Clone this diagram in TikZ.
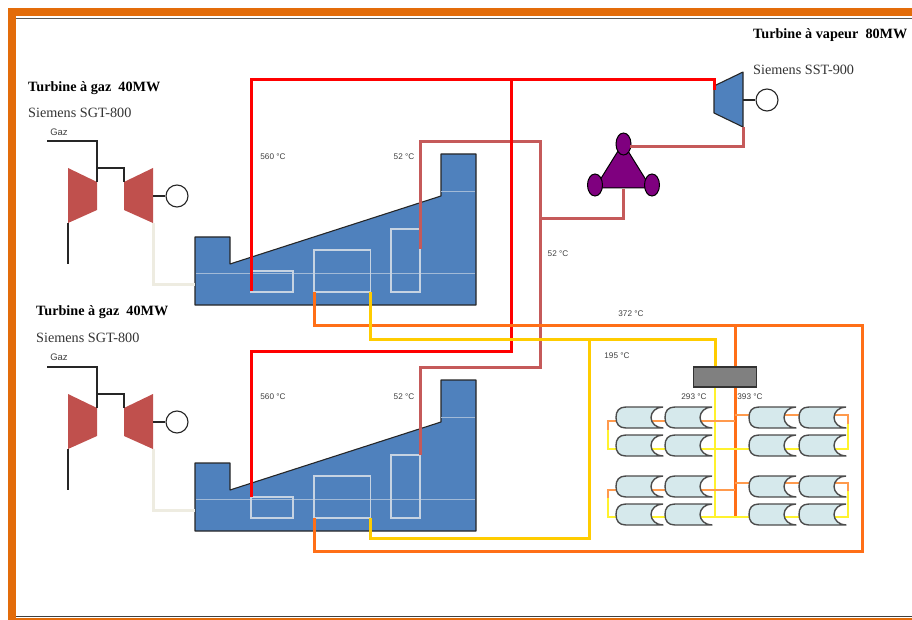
\documentclass[tikz,border=0pt]{standalone}
\usepackage{fontspec}
\setmainfont{Liberation Serif}
\setsansfont{Liberation Sans}
\usepackage{xcolor}
\usetikzlibrary{positioning,shapes.geometric}
\definecolor{framecol}{HTML}{E36C0A}
\definecolor{gtcol}{HTML}{C0504D}
\definecolor{hrsgcol}{HTML}{4F81BD}
\definecolor{innercol}{HTML}{C6D3E2}
\definecolor{hotcol}{HTML}{FF0000}
\definecolor{condcol}{HTML}{C55A5A}
\definecolor{oilcol}{HTML}{FF6F17}
\definecolor{oilthin}{HTML}{FF9A4D}
\definecolor{feedcol}{HTML}{FFCC00}
\definecolor{coldcol}{HTML}{FFF22E}
\definecolor{tubecol}{HTML}{D6E9EC}
\definecolor{pumpcol}{HTML}{7F007F}
\definecolor{exhaustcol}{HTML}{EEECE1}
\tikzset{
  shell/.style={draw=black!85, line width=1.1pt, line join=round},
  wire/.style={draw=black!85, line width=1.1pt},
  gen/.style={draw=black!85, line width=1.1pt, circle, fill=white, minimum size=22pt, inner sep=0pt},
  title/.style={font=\bfseries\fontsize{14.2}{16}\selectfont, anchor=west, inner sep=0pt},
  model/.style={font=\fontsize{14.2}{16}\selectfont, anchor=west, inner sep=0pt, text=black!80},
  temp/.style={font=\sffamily\fontsize{8.2}{10}\selectfont, inner sep=0pt, text=black!75},
  gazlabel/.style={font=\sffamily\fontsize{9.5}{11}\selectfont, inner sep=0pt, text=black!75},
  pumpend/.style={draw=black, line width=1pt, ellipse, fill=pumpcol, minimum width=15pt, minimum height=22pt, inner sep=0pt},
  exhaust/.style={draw=exhaustcol, line width=3pt},
  hot/.style={draw=hotcol, line width=3pt, line join=miter},
  cond/.style={draw=condcol, line width=3pt, line join=miter},
  oil/.style={draw=oilcol, line width=3pt, line join=miter},
  feed/.style={draw=feedcol, line width=3pt, line join=miter},
  oilbranch/.style={draw=oilthin, line width=2.4pt},
  coldbranch/.style={draw=coldcol, line width=2.4pt},
  inner/.style={draw=innercol, line width=1.3pt},
  gasset/.pic={
    \fill[gtcol] (68,168) -- (97,182) -- (97,210) -- (68,223) -- cycle;
    \fill[gtcol] (124,182) -- (153,168) -- (153,223) -- (124,210) -- cycle;
    \coordinate (-gaz) at (47,141);
    \coordinate (-burn) at (97,182);
    \coordinate (-shaft) at (97,168);
    \coordinate (-turb) at (124,182);
    \coordinate (-air) at (68,223);
    \coordinate (-airend) at (68,264);
    \coordinate (-out) at (153,223);
    \coordinate (-drive) at (153,196);
    \node[gen] (-gen) at (177,196) {};
    \draw[wire] (-gaz) -| (-burn);
    \draw[wire] (-shaft) -| (-turb);
    \draw[wire] (-air) -- (-airend);
    \draw[wire] (-drive) -- (-gen);
  },
  hrsg/.pic={
    \filldraw[shell, fill=hrsgcol] (195,237) -- (230,237) -- (230,264) -- (441,196) -- (441,154) -- (476,154) -- (476,305) -- (195,305) -- cycle;
    \draw[draw=innercol!70!hrsgcol, line width=0.6pt] (196,273) -- (475,273);
    \draw[draw=innercol!70!hrsgcol, line width=0.6pt] (441,191) -- (475,191);
    \draw[inner] (251,271) rectangle (293,292);
    \draw[inner] (314,250) rectangle (370.5,292);
    \draw[inner] (391,229) rectangle (420,292);
    \coordinate (-in) at (195,284);
    \coordinate (-atop) at (251,271);
    \coordinate (-abot) at (251,291);
    \coordinate (-bleft) at (314,292);
    \coordinate (-bright) at (370.5,292);
    \coordinate (-ctop) at (420,229);
    \coordinate (-cmid) at (420,249);
  },
  collector/.pic={
    \filldraw[draw=black!70, line width=1.4pt, fill=tubecol, line join=round] (47,0) -- (10,0) .. controls (3,0) and (0,4) .. (0,10.5) .. controls (0,17) and (3,21) .. (10,21) -- (47,21) .. controls (40,21) and (35,16) .. (35,10.5) .. controls (35,5) and (40,0) .. (47,0);
  }
}
\begin{document}
\begin{tikzpicture}[x=1pt, y=-1pt]
\useasboundingbox (0,0) rectangle (912,620);
\fill[framecol] (8,8) rectangle (912,16);
\fill[framecol] (8,8) rectangle (16,620);
\fill[framecol] (8,617.5) rectangle (912,620);
\draw[draw=black!65, line width=1pt] (16,18.5) -- (912,18.5);
\draw[draw=black!75, line width=1pt] (16,616.5) -- (912,616.5);

\coordinate (o1) at (608,421);
\coordinate (o1m) at (608,430);
\coordinate (o1t) at (735,421);
\coordinate (y1) at (608,449);
\coordinate (y1r) at (848,449);
\coordinate (o2) at (848,415);
\coordinate (o2m) at (848,424);
\coordinate (o2t) at (735,415);
\coordinate (o3) at (608,490);
\coordinate (o3m) at (608,498);
\coordinate (o3t) at (735,490);
\coordinate (y3) at (608,517);
\coordinate (y3r) at (848,517);
\coordinate (o4) at (848,483);
\coordinate (o4m) at (848,491);
\coordinate (o4t) at (735,483);
\coordinate (ybot) at (715,517);
\coordinate (obot) at (735,517);
\coordinate (headyt) at (715,367);
\coordinate (headyb) at (715,387);
\coordinate (headot) at (735,367);
\coordinate (headob) at (735,387);

\draw[coldbranch] (headyb) -- (ybot);
\draw[oil] (headob) -- (obot);
\draw[oilbranch] (o1m) -- (o1) -- (o1t);
\draw[oilbranch] (o2m) -- (o2) -- (o2t);
\draw[oilbranch] (o3m) -- (o3) -- (o3t);
\draw[oilbranch] (o4m) -- (o4) -- (o4t);
\draw[coldbranch] (o1m) -- (y1) -- (y1r) -- (o2m);
\draw[coldbranch] (o3m) -- (y3) -- (y3r) -- (o4m);

\foreach \colx in {616,665,749,799}
  \foreach \rowy in {407,435,476,504}
    \pic at (\colx,\rowy) {collector};

\pic (g1) at (0,0) {gasset};
\pic (g2) at (0,226) {gasset};
\pic (h1) at (0,0) {hrsg};
\pic (h2) at (0,226) {hrsg};

\filldraw[shell, fill=hrsgcol] (714,86) -- (743,72) -- (743,127) -- (714,113) -- cycle;
\node[gen] (gensteam) at (767,100) {};
\coordinate (steamin) at (714,90);
\coordinate (steamout) at (743,127);
\coordinate (steamdrive) at (743,100);
\draw[wire] (steamdrive) -- (gensteam);

\filldraw[draw=black, line width=1pt, fill=pumpcol, line join=round] (623,143) -- (651,188) -- (595,188) -- cycle;
\node[pumpend] (pumptop) at (623.5,144) {};
\node[pumpend] (pumpleft) at (595,185) {};
\node[pumpend] (pumpright) at (652,185) {};
\coordinate (pumpout) at (623,189);
\coordinate (pumpin) at (630,147);
\coordinate (condriser) at (540,219);

\draw[exhaust] (g1-out) |- (h1-in);
\draw[exhaust] (g2-out) |- (h2-in);

\draw[cond] (h1-cmid) |- (540,142) -- (540,367) -| (h2-ctop);
\draw[cond] (pumpout) |- (condriser);
\draw[cond] (pumpin) -| (steamout);
\draw[hot] (h1-abot) |- (steamin |- 0,80) -- (steamin);
\draw[hot] (h2-atop) |- (511,351) -- (511,80);

\draw[oil] (h1-bleft) |- (862,325) |- (314,551) -- (h2-bleft);
\draw[oil] (735,325) -- (headot);
\draw[feed] (h1-bright) |- (715,339) -- (headyt);
\draw[feed] (h2-bright) |- (589,538) -- (589,339);

\node[draw=black!80, line width=1.2pt, fill=black!50, minimum width=63pt, minimum height=20pt, inner sep=0pt] (header) at (725,377) {};

\node[title] (titlea) at (28,88.5) {Turbine à gaz\ \ 40MW};
\node[model] (modela) at (28,113) {Siemens SGT-800};
\node[title] (titleb) at (36,312.5) {Turbine à gaz\ \ 40MW};
\node[model] (modelb) at (36,338) {Siemens SGT-800};
\node[title] (titlec) at (753,35.5) {Turbine à vapeur\ \ 80MW};
\node[model] (modelc) at (753,70) {Siemens SST-900};
\node[gazlabel] (gaza) at (59,132) {Gaz};
\node[gazlabel] (gazb) at (59,357) {Gaz};
\node[temp] (ta) at (273,157) {560 °C};
\node[temp] (tb) at (404,157) {52 °C};
\node[temp] (tc) at (273,397) {560 °C};
\node[temp] (td) at (404,397) {52 °C};
\node[temp] (te) at (558,254) {52 °C};
\node[temp] (tf) at (631,314) {372 °C};
\node[temp] (tg) at (617,356) {195 °C};
\node[temp] (th) at (694,397) {293 °C};
\node[temp] (ti) at (750,397) {393 °C};
\end{tikzpicture}
\end{document}
